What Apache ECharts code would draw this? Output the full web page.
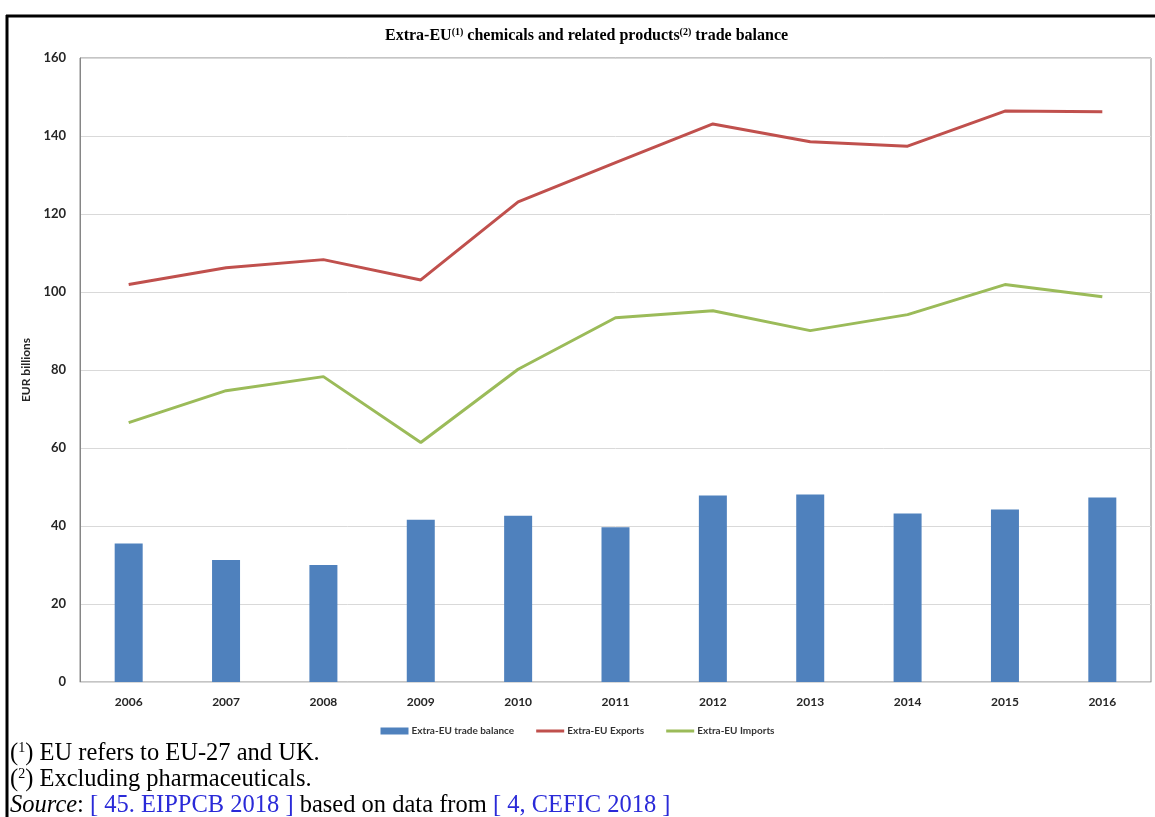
<!DOCTYPE html>
<html>
<head>
<meta charset="utf-8">
<script src="https://cdn.jsdelivr.net/npm/echarts@6/dist/echarts.min.js"></script>
<style>
html,body{margin:0;padding:0;background:#fff;}
#chart{width:1155px;height:817px;}
</style>
</head>
<body>
<div id="chart"></div>
<script>
const years = ['2006','2007','2008','2009','2010','2011','2012','2013','2014','2015','2016'];
const tradeBalance = [35.5, 31.3, 30.0, 41.6, 42.6, 39.7, 47.8, 48.1, 43.2, 44.2, 47.3];
const exportsEU = [101.9, 106.2, 108.3, 103.1, 123.1, 133.2, 143.1, 138.5, 137.4, 146.4, 146.2];
const importsEU = [66.5, 74.7, 78.3, 61.4, 80.2, 93.4, 95.2, 90.1, 94.2, 101.9, 98.8];
const yTicks = [0, 20, 40, 60, 80, 100, 120, 140, 160];

const chart = echarts.init(document.getElementById('chart'));
const sans = 'Lato, "Open Sans", sans-serif';
const lab = {fontFamily: sans, fontWeight: 'bold', fontSize: 13, color: '#262626'};
const serif = '"Liberation Serif", "DejaVu Serif", serif';
const lineIcon = 'path://M0 0L0.01 0L0.01 0.01Z M0 2H28V5H0Z M0 7L0.01 7L0.01 6.99Z';
chart.setOption({
  animation: false,
  title: {
    text: 'Extra-EU{s|(1)} chemicals and related products{s|(2)} trade balance',
    left: 380,
    textAlign: 'left',
    top: 22,
    textStyle: {
      fontFamily: serif, fontWeight: 'bold', fontSize: 16, color: '#000',
      rich: { s: {fontFamily: serif, fontWeight: 'bold', fontSize: 10, verticalAlign: 'top', padding: [0,0,7,0], color: '#000'} }
    }
  },
  grid: {left: 80, top: 58, right: 4, bottom: 135, show: true, borderColor: '#8a8a8a', borderWidth: 1},
  legend: {
    top: 721, left: 'center',
    itemWidth: 28, itemHeight: 7, itemGap: 22,
    textStyle: {fontFamily: sans, fontSize: 10, fontWeight: 'bold', color: '#333', padding: [0,0,0,-2]},
    data: [
      {name: 'Extra-EU trade balance', icon: 'rect'},
      {name: 'Extra-EU Exports', icon: lineIcon},
      {name: 'Extra-EU Imports', icon: lineIcon}
    ]
  },
  xAxis: {
    type: 'category', data: years,
    axisLine: {lineStyle: {color: '#d9d9d9', width: 1}},
    axisTick: {show: false},
    axisLabel: Object.assign({margin: 14}, lab, {fontSize: 12})
  },
  yAxis: {
    type: 'value', min: yTicks[0], max: yTicks[yTicks.length-1], interval: 20,
    name: 'EUR billions', nameLocation: 'middle', nameGap: 30,
    nameTextStyle: {fontFamily: sans, fontWeight: 'bold', fontSize: 12, color: '#262626'},
    axisLine: {show: true, lineStyle: {color: '#868686', width: 1}},
    axisTick: {show: false},
    axisLabel: Object.assign({margin: 14}, lab),
    splitLine: {lineStyle: {color: '#d9d9d9', width: 1}}
  },
  series: [
    {name: 'Extra-EU trade balance', type: 'bar', data: tradeBalance, barWidth: 28,
     itemStyle: {color: '#4F81BD'}},
    {name: 'Extra-EU Exports', type: 'line', data: exportsEU, symbol: 'none', showSymbol: false,
     lineStyle: {color: '#C0504D', width: 3}, itemStyle: {color: '#C0504D'}},
    {name: 'Extra-EU Imports', type: 'line', data: importsEU, symbol: 'none', showSymbol: false,
     lineStyle: {color: '#9BBB59', width: 3}, itemStyle: {color: '#9BBB59'}}
  ],
  graphic: [
    {type: 'line', shape: {x1: 6, y1: 16, x2: 1155, y2: 16}, style: {stroke: '#000', lineWidth: 3}, silent: true},
    {type: 'line', shape: {x1: 7, y1: 15, x2: 7, y2: 817}, style: {stroke: '#000', lineWidth: 3}, silent: true},
    {type: 'text', left: 10, top: 741, style: {
      text: '({s|1}) EU refers to EU-27 and UK.',
      font: '24.5px ' + serif, fill: '#000',
      rich: {s: {fontFamily: serif, fontSize: 14, verticalAlign: 'top', padding: [0,0,9,0], fill: '#000'}}
    }},
    {type: 'text', left: 10, top: 767, style: {
      text: '({s|2}) Excluding pharmaceuticals.',
      font: '24.5px ' + serif, fill: '#000',
      rich: {s: {fontFamily: serif, fontSize: 14, verticalAlign: 'top', padding: [0,0,9,0], fill: '#000'}}
    }},
    {type: 'text', left: 10, top: 793, style: {
      text: '{i|Source}: {l|[ 45. EIPPCB 2018 ]} based on data from {l|[ 4, CEFIC 2018 ]}',
      font: '24.5px ' + serif, fill: '#000',
      rich: {
        i: {fontFamily: serif, fontSize: 24.5, fontStyle: 'italic', fill: '#000'},
        l: {fontFamily: serif, fontSize: 24.5, fill: '#2a2ad8'}
      }
    }}
  ]
});
</script>
</body>
</html>
